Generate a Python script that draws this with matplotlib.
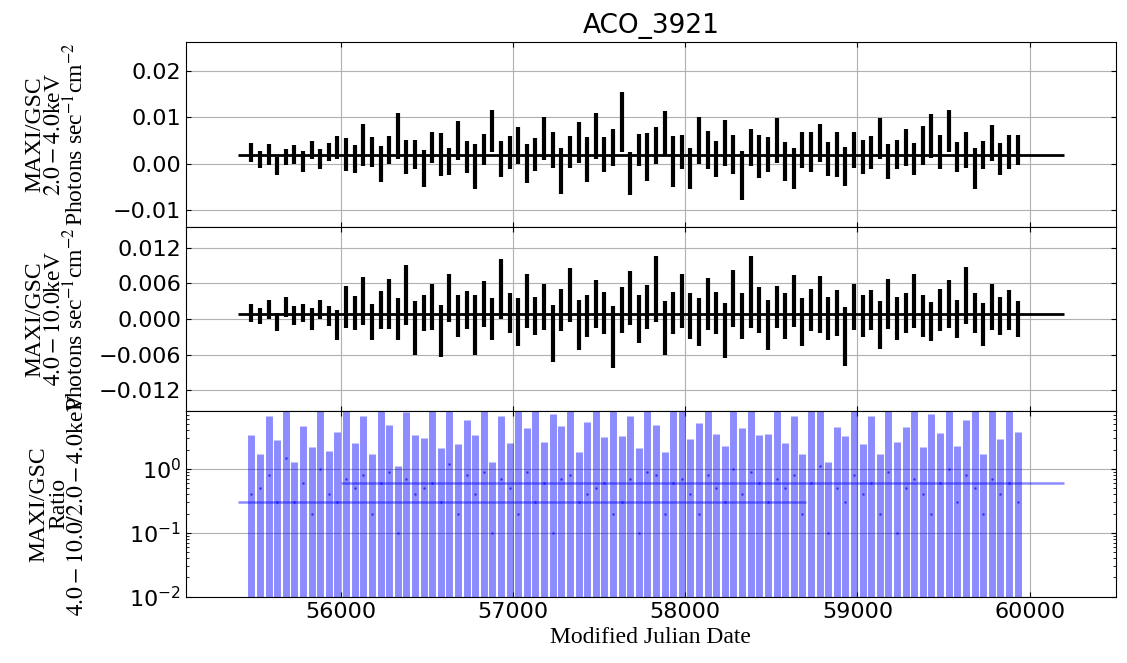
import numpy as np
import matplotlib.pyplot as plt

# ========================= data ==============================================

title = "ACO_3921"

# bin centres (MJD)
mjd = [55480, 55530, 55580, 55630, 55680, 55730, 55780, 55830, 55880, 55930,
       55980, 56030, 56080, 56130, 56180, 56230, 56280, 56330, 56380, 56430,
       56480, 56530, 56580, 56630, 56680, 56730, 56780, 56830, 56880, 56930,
       56980, 57030, 57080, 57130, 57180, 57230, 57280, 57330, 57380, 57430,
       57480, 57530, 57580, 57630, 57680, 57730, 57780, 57830, 57880, 57930,
       57980, 58030, 58080, 58130, 58180, 58230, 58280, 58330, 58380, 58430,
       58480, 58530, 58580, 58630, 58680, 58730, 58780, 58830, 58880, 58930,
       58980, 59030, 59080, 59130, 59180, 59230, 59280, 59330, 59380, 59430,
       59480, 59530, 59580, 59630, 59680, 59730, 59780, 59830, 59880, 59930]

# 2.0-4.0 keV flux (1e-3 photons/s/cm2) and 1-sigma errors
soft = [2.5, 1.0, 2.0, -0.5, 1.5, 2.0, 0.5, 3.0, 1.0, 2.5,
        3.5, 2.0, 1.0, 4.0, 2.5, 0.0, 3.0, 6.0, 1.5, 2.0,
        -1.0, 3.5, 2.0, 0.5, 5.0, 1.5, -0.5, 3.0, 7.0, 1.0,
        2.5, 4.0, 0.0, 2.0, 5.5, 3.0, -1.5, 2.5, 4.5, 1.0,
        6.0, 2.0, 3.5, 9.0, -2.0, 3.0, 1.5, 4.0, 6.5, 0.5,
        2.5, -1.0, 5.0, 3.0, 1.0, 4.5, 2.0, -2.5, 3.5, 1.5,
        2.0, 5.0, 0.5, -1.0, 3.0, 2.5, 4.5, 1.0, 2.0, -0.5,
        3.0, 1.5, 2.5, 5.5, 0.5, 2.0, 3.5, 1.0, 4.0, 6.0,
        2.5, 7.0, 1.5, 3.0, -1.0, 2.0, 4.5, 1.0, 2.5, 3.0]
soft_err = [2.0, 1.8, 2.2, 2.0, 1.7, 2.0, 2.3, 2.0, 2.1, 1.9,
            2.4, 3.5, 3.0, 4.5, 3.2, 3.8, 3.0, 5.0, 3.6, 3.2,
            4.0, 3.4, 4.6, 3.0, 4.2, 3.5, 4.8, 3.3, 4.5, 3.8,
            3.5, 4.0, 4.2, 3.6, 4.6, 3.9, 5.0, 3.4, 4.4, 4.8,
            5.0, 3.8, 4.0, 6.5, 4.6, 3.5, 5.2, 4.0, 4.8, 5.5,
            3.6, 4.5, 5.0, 4.0, 3.8, 5.0, 4.2, 5.2, 3.9, 4.6,
            3.7, 4.9, 4.1, 4.5, 3.8, 4.3, 4.0, 3.6, 4.8, 4.2,
            3.9, 3.6, 3.5, 4.4, 3.8, 3.2, 4.0, 3.5, 4.2, 4.8,
            3.6, 4.5, 3.2, 3.8, 4.5, 3.0, 3.8, 3.4, 3.6, 3.2]

# 4.0-10.0 keV flux (1e-3 photons/s/cm2) and 1-sigma errors
hard = [1.0, 0.5, 1.5, -0.5, 2.0, 0.5, 1.0, 0.0, 1.5, 0.5,
        -1.0, 2.0, 1.0, 3.0, -0.5, 1.5, 2.5, 0.0, 4.0, -1.5,
        1.0, 2.0, -2.0, 3.5, 0.5, 1.5, -1.0, 2.5, 0.0, 5.0,
        1.0, -0.5, 3.0, 0.5, 2.0, -2.5, 1.5, 4.0, -1.0, 0.5,
        2.5, 1.0, -3.0, 1.5, 3.5, 0.0, 2.0, 5.0, -1.5, 1.0,
        3.0, 0.5, -0.5, 2.5, 1.0, -2.0, 3.5, 0.5, 4.5, 1.5,
        -1.0, 2.0, 0.5, 3.0, -0.5, 1.5, 2.5, 0.0, 1.0, -3.0,
        2.0, 0.5, 1.5, -1.0, 2.5, 0.0, 1.0, 3.0, 0.5, -0.5,
        1.5, 2.5, 0.0, 4.0, 1.0, -1.0, 2.0, 0.5, 1.5, 0.0]
hard_err = [1.5, 1.4, 1.6, 1.5, 1.7, 1.6, 1.5, 1.8, 1.6, 1.7,
            2.5, 3.5, 2.8, 4.0, 3.0, 3.2, 4.2, 3.5, 5.0, 4.5,
            3.0, 3.8, 4.4, 4.0, 3.6, 3.2, 5.0, 3.8, 3.5, 5.0,
            3.4, 4.0, 4.6, 3.2, 3.8, 4.8, 3.6, 4.5, 4.2, 3.5,
            4.0, 3.6, 5.2, 3.8, 4.6, 4.0, 3.7, 5.5, 4.5, 3.5,
            4.5, 3.8, 4.0, 4.4, 3.6, 4.6, 4.8, 3.8, 6.0, 3.9,
            4.2, 3.6, 3.8, 4.4, 4.0, 3.5, 4.8, 3.6, 3.9, 5.0,
            3.8, 3.5, 3.4, 4.0, 4.2, 3.6, 3.4, 4.5, 3.6, 3.3,
            3.5, 4.0, 3.2, 4.8, 3.4, 3.6, 3.8, 3.2, 3.4, 3.0]

# hardness ratio and its 1-sigma error
ratio = [0.4, 0.5, 0.8, 0.3, 1.5, 0.3, 0.6, 0.2, 1.0, 0.4,
         0.3, 0.7, 0.5, 0.8, 0.2, 0.6, 0.9, 0.1, 0.7, 0.4,
         0.5, 0.6, 0.3, 1.2, 0.2, 0.8, 0.4, 0.9, 0.1, 0.7,
         0.5, 0.2, 0.9, 0.3, 0.6, 0.1, 0.7, 0.8, 0.3, 0.4,
         0.5, 0.6, 0.2, 0.3, 0.7, 0.1, 0.9, 0.8, 0.2, 0.6,
         0.7, 0.4, 0.2, 0.8, 0.5, 0.3, 1.0, 0.4, 0.9, 0.6,
         0.3, 0.7, 0.5, 0.8, 0.2, 0.6, 1.1, 0.1, 0.5, 0.3,
         0.8, 0.4, 0.6, 0.2, 0.9, 0.1, 0.5, 0.7, 0.4, 0.2,
         0.6, 1.0, 0.3, 0.8, 0.5, 0.2, 0.7, 0.4, 0.6, 0.3]
ratio_err = [3.0, 1.2, 6.0, 2.5, 8.0, 1.0, 4.0, 2.0, 9.0, 1.5,
             3.5, 8.0, 2.0, 6.0, 1.5, 9.0, 4.0, 1.0, 7.0, 3.0,
             2.5, 9.0, 1.8, 8.0, 2.2, 5.0, 3.0, 9.0, 1.2, 6.0,
             2.0, 8.0, 3.5, 9.0, 2.0, 7.0, 4.0, 9.0, 1.5, 5.0,
             8.0, 2.5, 9.0, 3.0, 6.0, 2.0, 9.0, 4.0, 1.6, 8.0,
             9.0, 2.5, 5.0, 9.0, 3.0, 2.0, 8.0, 4.0, 9.0, 2.8,
             3.2, 9.0, 2.0, 6.0, 1.5, 8.0, 9.0, 1.2, 4.0, 3.0,
             9.0, 2.0, 6.0, 1.5, 9.0, 2.5, 4.0, 9.0, 1.8, 7.0,
             3.0, 9.0, 2.0, 5.0, 9.0, 1.5, 8.0, 2.5, 9.0, 3.5]

# long-term mean levels: (x_start, x_stop, level)
soft_mean = (55400, 60200, 1.8e-3)
hard_mean = (55400, 60200, 0.8e-3)
ratio_means = [(55400, 58700, 0.30), (56000, 60200, 0.60)]

# ========================= plot ==============================================

plt.rcParams.update({'font.size': 16, 'xtick.direction': 'in', 'ytick.direction': 'in',
                     'xtick.top': True, 'ytick.right': True, 'mathtext.fontset': 'stix'})
serif = {'family': 'Liberation Serif', 'size': 17}

fig = plt.figure(figsize=(11.27, 6.63), dpi=100)
ax1 = fig.add_axes([0.165, 0.658, 0.825, 0.279])
ax2 = fig.add_axes([0.165, 0.380, 0.825, 0.278], sharex=ax1)
ax3 = fig.add_axes([0.165, 0.100, 0.825, 0.280], sharex=ax1)

t = np.array(mjd)


def _mean_bar(ax, seg, **kw):
    x0, x1, y = seg
    ax.errorbar([(x0 + x1) / 2], [y], xerr=[(x1 - x0) / 2], fmt='none', **kw)


ax1.errorbar(t, np.array(soft) * 1e-3, yerr=np.array(soft_err) * 1e-3,
             fmt='none', ecolor='black', elinewidth=3)
_mean_bar(ax1, soft_mean, ecolor='black', elinewidth=2)
ax1.set_ylim(-0.0135, 0.0262)
ax1.set_yticks([-0.01, 0.0, 0.01, 0.02])
ax1.set_yticklabels(['\u22120.01', '0.00', '0.01', '0.02'])
ax1.set_ylabel('MAXI/GSC\n$2.0-4.0$keV\nPhotons sec$^{-1}$cm$^{-2}$', fontdict=serif,
               linespacing=0.9)
ax1.set_title(title, fontsize=19)

ax2.errorbar(t, np.array(hard) * 1e-3, yerr=np.array(hard_err) * 1e-3,
             fmt='none', ecolor='black', elinewidth=3)
_mean_bar(ax2, hard_mean, ecolor='black', elinewidth=2)
ax2.set_ylim(-0.0155, 0.0155)
ax2.set_yticks([-0.012, -0.006, 0.0, 0.006, 0.012])
ax2.set_yticklabels(['\u22120.012', '\u22120.006', '0.000', '0.006', '0.012'])
ax2.set_ylabel('MAXI/GSC\n$4.0-10.0$keV\nPhotons sec$^{-1}$cm$^{-2}$', fontdict=serif,
               linespacing=0.9)

ax3.set_yscale('log')
ax3.errorbar(t, ratio, yerr=ratio_err, fmt='.', markersize=2, color='blue',
             ecolor='blue', elinewidth=5, alpha=0.45)
for seg in ratio_means:
    _mean_bar(ax3, seg, ecolor='blue', elinewidth=1.8, alpha=0.45)
ax3.set_ylim(0.01, 8)
ax3.set_ylabel('MAXI/GSC\nRatio\n$4.0-10.0/2.0-4.0$keV', fontdict=serif, linespacing=0.9)
ax3.set_xlabel('Modified Julian Date', fontdict=serif)

ax3.set_xlim(55100, 60500)
ax3.set_xticks([56000, 57000, 58000, 59000, 60000])
for ax in (ax1, ax2, ax3):
    ax.grid(True)
    ax.yaxis.set_label_coords(-0.105, 0.5)
for ax in (ax1, ax2):
    ax.tick_params(labelbottom=False)

plt.savefig('out.png', dpi=100)
